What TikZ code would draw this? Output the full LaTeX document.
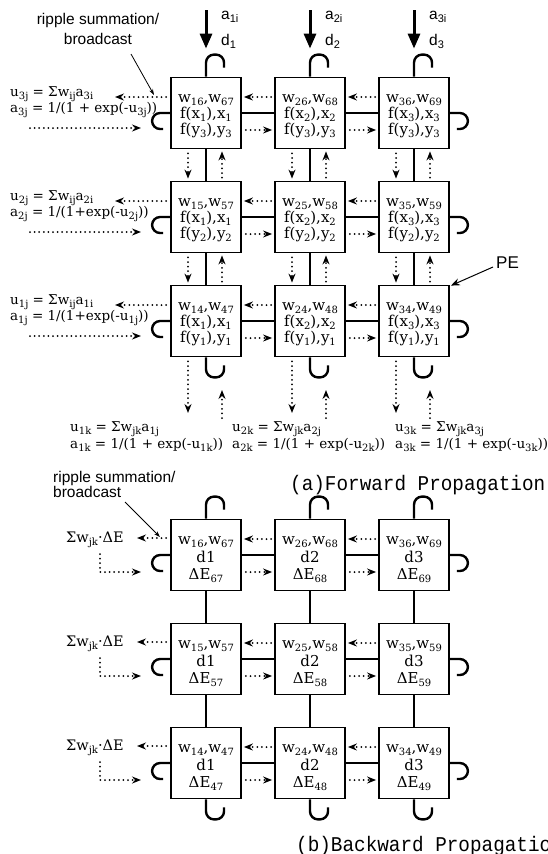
\documentclass[tikz,border=0pt]{standalone}
\usepackage{fontspec}
\usepackage{graphicx}
\setmainfont{DejaVu Serif}
\newfontfamily\sansf{Liberation Sans}
\newfontfamily\monof{Liberation Mono}
\usetikzlibrary{arrows.meta}
\newcommand\sbx[1]{\raisebox{-3.5pt}{\fontsize{10}{10}\selectfont #1}}
\newcommand\sbs[1]{\raisebox{-3.5pt}{\fontsize{11}{11}\selectfont #1}}
\tikzset{
 pebox/.style={draw, line width=1.8pt, minimum width=70pt, minimum height=71pt, inner sep=0pt},
 tx/.style={font=\fontsize{15}{15}\selectfont, inner sep=0pt, anchor=base},
 fml/.style={font=\fontsize{13.5}{13.5}\selectfont, inner sep=0pt, anchor=base west},
 conn/.style={line width=2.2pt},
 hookl/.style={line width=2.4pt, rounded corners=8pt},
 dotarr/.style={line width=2pt, dash pattern=on 0pt off 4.6pt, line cap=round, -{Stealth[length=9pt,width=7pt,inset=3pt]}},
 bigarr/.style={line width=3pt, -{Triangle[length=15pt,width=12pt]}},
 thinarr/.style={line width=0.8pt, -{Stealth[length=6pt,width=4pt]}},
 lab/.style={font=\sansf\fontsize{15.5}{15.5}\selectfont, inner sep=0pt, anchor=base west},
 ttl/.style={font=\monof\fontsize{21}{21}\selectfont, inner sep=0pt, anchor=base west},
}
\begin{document}
\begin{tikzpicture}[x=1pt,y=-1pt]
\useasboundingbox (0,0) rectangle (548,854);
% ---------------- forward propagation ----------------
\foreach \ii/\yy in {1/113,2/217,3/321}{
 \foreach \jj/\xx in {1/206,2/310,3/414}{
  \pgfmathtruncatemacro\rp{7-\ii}
  \pgfmathtruncatemacro\sc{6+\jj}
  \pgfmathtruncatemacro\yi{4-\ii}
  \node[pebox] (f\ii\jj) at (\xx,\yy) {};
  \node[tx] (f\ii\jj-w) at ([yshift=11pt]f\ii\jj.center) {w\sbx{\jj\rp},w\sbx{\rp\sc}};
  \node[tx] (f\ii\jj-x) at ([yshift=-5pt]f\ii\jj.center) {f(x\sbx{\jj}),x\sbx{\jj}};
  \node[tx] (f\ii\jj-y) at ([yshift=-21pt]f\ii\jj.center) {f(y\sbx{\yi}),y\sbx{\yi}};
 }
}
% horizontal links
\foreach \ii in {1,2,3}{
 \foreach \jj/\kk in {1/2,2/3}{
  \draw[conn] (f\ii\jj.east) -- (f\ii\kk.west);
  \draw[dotarr] ([yshift=16pt,xshift=-3pt]f\ii\kk.west) -- ([yshift=16pt,xshift=2pt]f\ii\jj.east);
  \draw[dotarr] ([yshift=-17pt,xshift=4pt]f\ii\jj.east) -- ([yshift=-17pt,xshift=-2pt]f\ii\kk.west);
 }
}
% vertical links
\foreach \ii/\kk in {1/2,2/3}{
 \foreach \jj in {1,2,3}{
  \draw[conn] (f\ii\jj.south) -- (f\kk\jj.north);
  \draw[dotarr] ([xshift=-18pt,yshift=-4pt]f\ii\jj.south) -- ([xshift=-18pt,yshift=2pt]f\kk\jj.north);
  \draw[dotarr] ([xshift=16pt,yshift=3pt]f\kk\jj.north) -- ([xshift=16pt,yshift=-2pt]f\ii\jj.south);
 }
}
% hooks
\foreach \jj in {1,2,3}{
 \draw[hookl] (f1\jj.north) -- ++(0,-22) -- ++(18,0) -- ++(0,13);
 \draw[hookl] (f3\jj.south) -- ++(0,20) -- ++(18,0) -- ++(0,-12);
}
\foreach \ii in {1,2,3}{
 \draw[hookl] (f\ii1.west) -- ++(-18,0) -- ++(0,16) -- ++(11,0);
 \draw[hookl] (f\ii3.east) -- ++(18,0) -- ++(0,16) -- ++(-11,0);
}
% top inputs
\foreach \jj/\xx in {1/206,2/310,3/414}{
 \coordinate (t\jj) at (\xx,10);
 \draw[bigarr] (t\jj) -- ([yshift=28pt]f1\jj.north);
 \node[lab] (ai\jj) at (\xx+15,19) {a\sbs{\jj i}};
 \node[lab] (di\jj) at (\xx+15,45) {d\sbs{\jj}};
}
% bottom outputs
\foreach \jj/\xx/\xk in {1/206/70,2/310/232,3/414/395}{
 \coordinate (bd\jj) at (\xx-18,413);
 \coordinate (bu\jj) at (\xx+16,418);
 \coordinate (bt\jj) at (\xx+16,390);
 \draw[dotarr] ([xshift=-18pt,yshift=-4pt]f3\jj.south) -- (bd\jj);
 \draw[dotarr] (bu\jj) -- (bt\jj);
 \node[fml] (uk\jj) at (\xk,431) {u\sbx{\jj k} = Σw\sbx{jk}a\sbx{\jj j}};
 \node[fml] (ak\jj) at (\xk,448) {a\sbx{\jj k} = 1/(1 + exp(-u\sbx{\jj k}))};
}
% left side formulas
\foreach \ii/\yy in {1/113,2/217,3/321}{
 \pgfmathtruncatemacro\yi{4-\ii}
 \node[fml] (uj\ii) at (10,\yy-17) {u\sbx{\yi j} = Σw\sbx{ij}a\sbx{\yi i}};
 \coordinate (la\ii) at (115,\yy-16);
 \coordinate (ra\ii) at (30,\yy+15);
 \coordinate (rb\ii) at (141,\yy+15);
 \draw[dotarr] ([yshift=16pt,xshift=-4pt]f\ii1.west) -- (la\ii);
 \draw[dotarr] (ra\ii) -- (rb\ii);
}
\node[fml] (aj1) at (10,112) {a\sbx{3j} = 1/(1 + exp(-u\sbx{3j}))};
\node[fml] (aj2) at (10,216) {a\sbx{2j} = 1/(1+exp(-u\sbx{2j}))};
\node[fml] (aj3) at (10,320) {a\sbx{1j} = 1/(1+exp(-u\sbx{1j}))};
% ripple label (forward)
\node[lab, anchor=base] (rs1) at (98,24) {ripple summation/};
\node[lab, anchor=base] (rs2) at (98,44) {broadcast};
\coordinate (rp1) at (131,54);
\coordinate (rp2) at (154,95);
\draw[thinarr] (rp1) -- (rp2);
% PE label
\node[lab, font=\sansf\fontsize{17}{17}\selectfont] (pe) at (496,268) {PE};
\coordinate (pe1) at (493,267);
\draw[thinarr, line width=1pt, -{Stealth[length=9pt,width=7pt]}] (pe1) -- ([xshift=1pt,yshift=-1pt]f33.north east);
\node[ttl] (ta) at (290,490) {\scalebox{0.92}[1]{(a)Forward Propagation}};
% ---------------- backward propagation ----------------
\foreach \ii/\yy in {1/555,2/659,3/763}{
 \foreach \jj/\xx in {1/206,2/310,3/414}{
  \pgfmathtruncatemacro\rp{7-\ii}
  \pgfmathtruncatemacro\sc{6+\jj}
  \node[pebox] (b\ii\jj) at (\xx,\yy) {};
  \node[tx] (b\ii\jj-w) at ([yshift=11pt]b\ii\jj.center) {w\sbx{\jj\rp},w\sbx{\rp\sc}};
  \node[tx] (b\ii\jj-d) at ([yshift=-7pt]b\ii\jj.center) {d\jj};
  \node[tx] (b\ii\jj-e) at ([yshift=-24pt]b\ii\jj.center) {ΔE\sbx{\rp\sc}};
 }
}
\foreach \ii in {1,2,3}{
 \foreach \jj/\kk in {1/2,2/3}{
  \draw[conn] (b\ii\jj.east) -- (b\ii\kk.west);
  \draw[dotarr] ([yshift=16pt,xshift=-3pt]b\ii\kk.west) -- ([yshift=16pt,xshift=2pt]b\ii\jj.east);
  \draw[dotarr] ([yshift=-17pt,xshift=4pt]b\ii\jj.east) -- ([yshift=-17pt,xshift=-2pt]b\ii\kk.west);
 }
}
\foreach \ii/\kk in {1/2,2/3}{
 \foreach \jj in {1,2,3}{
  \draw[conn] (b\ii\jj.south) -- (b\kk\jj.north);
 }
}
\foreach \jj in {1,2,3}{
 \draw[hookl] (b1\jj.north) -- ++(0,-22) -- ++(18,0) -- ++(0,13);
 \draw[hookl] (b3\jj.south) -- ++(0,20) -- ++(18,0) -- ++(0,-12);
}
\foreach \ii/\yy in {1/555,2/659,3/763}{
 \draw[hookl] (b\ii1.west) -- ++(-18,0) -- ++(0,16) -- ++(11,0);
 \draw[hookl] (b\ii3.east) -- ++(18,0) -- ++(0,16) -- ++(-11,0);
 \node[fml, font=\fontsize{14.5}{14.5}\selectfont] (se\ii) at (66,\yy-13) {Σw\sbx{jk}·ΔE};
 \coordinate (sl\ii) at (137,\yy-17);
 \coordinate (sv\ii) at (100,\yy-1);
 \coordinate (sc\ii) at (100,\yy+17);
 \coordinate (sr\ii) at (141,\yy+17);
 \draw[dotarr] ([yshift=17pt,xshift=-4pt]b\ii1.west) -- (sl\ii);
 \draw[dotarr] (sv\ii) -- (sc\ii) -- (sr\ii);
}
\node[lab] (rs3) at (53,482) {ripple summation/};
\node[lab] (rs4) at (53,497) {broadcast};
\coordinate (rp3) at (125,502);
\coordinate (rp4) at (160,537);
\draw[thinarr] (rp3) -- (rp4);
\node[ttl] (tb) at (296,851) {\scalebox{0.92}[1]{(b)Backward Propagation}};
\end{tikzpicture}
\end{document}
